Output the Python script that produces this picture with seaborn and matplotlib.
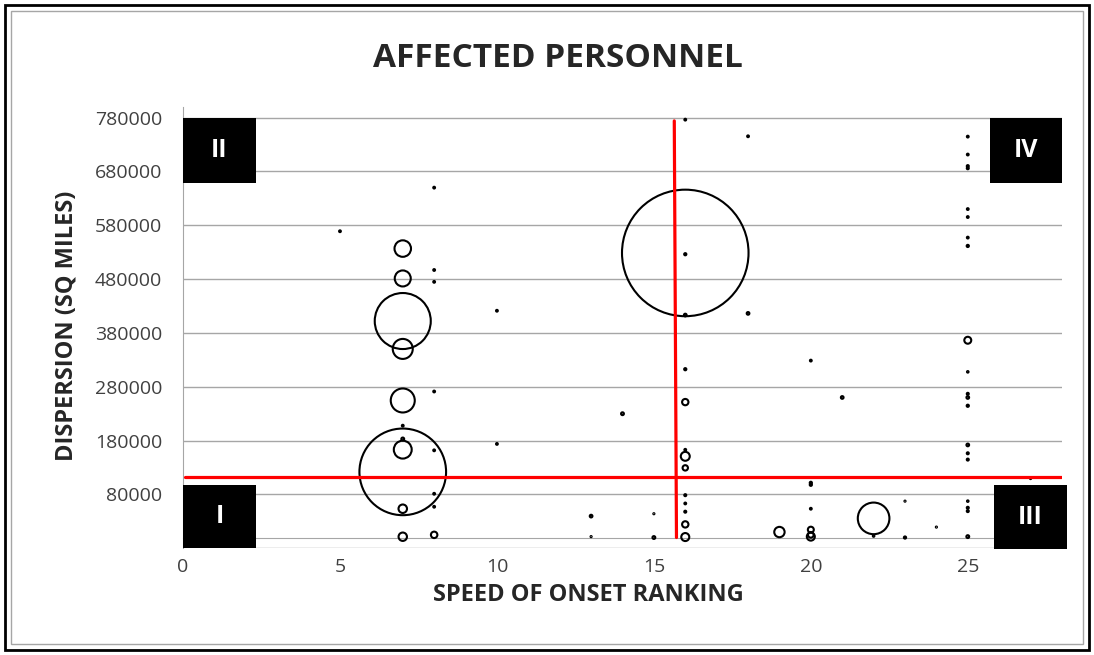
import numpy as np
import pandas as pd
import seaborn as sns
import matplotlib.pyplot as plt
from matplotlib.patches import Rectangle

sns.set_style('white')
plt.rcParams['font.family'] = ['Open Sans', 'DejaVu Sans']

# speed of onset ranking, dispersion (sq miles), affected personnel (bubble size)
speed = [5,
         7, 7, 7, 7, 7, 7, 7, 7, 7, 7, 7,
         8, 8, 8, 8, 8, 8, 8, 8,
         10, 10,
         13, 13, 14, 15, 15,
         16, 16, 16, 16, 16, 16, 16, 16, 16, 16, 16, 16, 16, 16,
         18, 18, 19,
         20, 20, 20, 20, 20, 20, 20,
         21, 22, 22, 23, 23, 24,
         25, 25, 25, 25, 25, 25, 25, 25, 25, 25,
         25, 25, 25, 25, 25, 25, 25, 25, 25, 25,
         27]
dispersion = [569000,
              536800, 481300, 402200, 350400, 254600, 207800, 183100, 163300, 122000, 53500, 1500,
              650000, 497000, 475000, 271300, 162000, 81300, 57200, 5000,
              421300, 173900,
              39800, 1700, 230000, 44200, 0,
              776300, 528700, 526300, 413300, 312700, 251600, 163000, 150900, 129400, 78700, 63300, 48000, 24400, 900,
              745400, 416400, 10200,
              328700, 101600, 98000, 53500, 14600, 5000, 1700,
              260200, 35600, 2800, 67600, 0, 19400,
              744800, 711500, 690000, 686000, 610200, 595400, 557200, 541700, 366500, 307800,
              267000, 260200, 244800, 172000, 156500, 144800, 67600, 55300, 49100, 1700,
              109600]
personnel = [200,
             17000, 16000, 196000, 25000, 36000, 200, 500, 20000, 469000, 4500, 4400,
             200, 200, 200, 200, 200, 200, 200, 2600,
             200, 200,
             450, 80, 500, 80, 500,
             200, 1000000, 300, 450, 300, 2500, 200, 5000, 1800, 250, 200, 250, 2500, 4000,
             200, 450, 6700,
             200, 300, 300, 200, 2200, 2000, 4000,
             450, 62400, 150, 80, 300, 80,
             200, 200, 250, 250, 200, 200, 200, 300, 3000, 150,
             250, 450, 300, 450, 250, 250, 150, 250, 250, 500,
             80]

xticks = [0, 5, 10, 15, 20, 25]
yticks = [-20000, 80000, 180000, 280000, 380000, 480000, 580000, 680000, 780000]
ytick_labels = [''] + [str(v) for v in yticks[1:]]

# quadrant dividers
split_x = [15.65, 15.72]
split_x_y = [774000, 0]
split_y = 112000

df = pd.DataFrame({'speed': speed, 'dispersion': dispersion, 'personnel': personnel})

fig = plt.figure(figsize=(10.94, 6.55), dpi=100)
ax = fig.add_axes([0.1673, 0.1629, 0.8034, 0.6739])

ax.set_xlim(0, 28)
ax.set_ylim(-20000, 800000)
ax.set_yticks(yticks)
ax.set_yticklabels(ytick_labels)
ax.set_xticks(xticks)
ax.yaxis.grid(True, color='#a6a6a6', lw=1.0)
ax.set_axisbelow(True)

for s in ['top', 'right']:
    ax.spines[s].set_visible(False)
ax.spines['left'].set_color('#a6a6a6')
ax.spines['bottom'].set_color('#a6a6a6')
ax.spines['bottom'].set_position(('data', 0))
ax.tick_params(axis='both', direction='out', length=6, width=1, color='#a6a6a6',
               labelsize=14, labelcolor='#404040')
ax.tick_params(axis='y', pad=9)
ax.tick_params(axis='x', pad=9)

sns.scatterplot(data=df, x='speed', y='dispersion', size='personnel',
                sizes=(0, 8300), size_norm=(0, 1000000),
                facecolor='none', edgecolor='black', linewidth=1.5,
                legend=False, ax=ax, zorder=3, clip_on=False)
ax.set_xlabel('')
ax.set_ylabel('')

ax.plot(split_x, split_x_y, color='#ff0000', lw=2.3, zorder=4)
ax.plot([0.06, 28], [split_y, split_y], color='#ff0000', lw=2.3, zorder=4)

boxes = [('II', 0, 658000, 2.32, 122000),
         ('I', 0, -20000, 2.32, 117000),
         ('IV', 25.7, 658000, 2.3, 122000),
         ('III', 25.84, -21000, 2.32, 118000)]
for lab, bx, by, bw, bh in boxes:
    ax.add_patch(Rectangle((bx, by), bw, bh, facecolor='black', edgecolor='none',
                           zorder=5, clip_on=False))
    ax.text(bx + bw / 2, by + bh / 2, lab, color='white', fontsize=18,
            fontweight='bold', ha='center', va='center', zorder=6)

fig.text(0.5096, 0.898, 'AFFECTED PERSONNEL', fontsize=24, fontweight='bold',
         ha='center', va='baseline')
fig.text(0.5375, 0.0916, 'SPEED OF ONSET RANKING', fontsize=17, fontweight='bold',
         ha='center', va='center')
fig.text(0.0610, 0.502, 'DISPERSION (SQ MILES)', fontsize=17, fontweight='bold',
         ha='center', va='center', rotation=90)

# chart frame
fig.patches.append(Rectangle((5 / 1094, 5 / 655), 1 - 10 / 1094, 1 - 10 / 655,
                             transform=fig.transFigure, fill=False,
                             edgecolor='black', lw=2))
fig.patches.append(Rectangle((11 / 1094, 11 / 655), 1 - 22 / 1094, 1 - 22 / 655,
                             transform=fig.transFigure, fill=False,
                             edgecolor='#a6a6a6', lw=1))

fig.savefig('out.png', dpi=100)
